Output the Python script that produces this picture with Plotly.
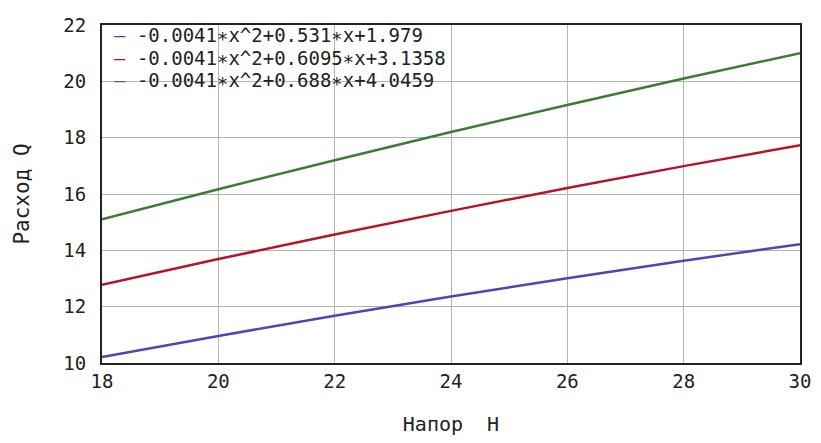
import plotly.graph_objects as go

# Напор H (x) and Расход Q (y) for the three pump curves
head = [18, 20, 22, 24, 26, 28, 30]
flow_1 = [10.21, 10.96, 11.68, 12.36, 13.01, 13.63, 14.22]
flow_2 = [12.78, 13.69, 14.56, 15.40, 16.21, 16.99, 17.73]
flow_3 = [15.10, 16.17, 17.20, 18.20, 19.16, 20.10, 21.00]

labels = [
    "-0.0041*x^2+0.531*x+1.979",
    "-0.0041*x^2+0.6095*x+3.1358",
    "-0.0041*x^2+0.688*x+4.0459",
]
colors = ["#4a48b4", "#b4142c", "#3c7c34"]
x_ticks = [18, 20, 22, 24, 26, 28, 30]
y_ticks = [10, 12, 14, 16, 18, 20, 22]

FONT = "DejaVu Sans Mono"
INK = "#222222"

fig = go.Figure()
for ys, name, c in zip([flow_1, flow_2, flow_3], labels, colors):
    fig.add_trace(go.Scatter(x=head, y=ys, mode="lines", name=name,
                             line=dict(color=c, width=2.5), showlegend=False))

# compact legend block: the base size sets the row pitch,
# the spans themselves are drawn a little larger
rows = [
    f"<span style='font-size:19px'><span style='color:{c}'>—</span> {name.replace('*', '∗')}</span>"
    for name, c in zip(labels, colors)
]
fig.add_annotation(
    xref="paper", yref="paper", x=0.014, y=1.0, xanchor="left", yanchor="top",
    yshift=3, align="left",
    text="<br>".join(rows),
    showarrow=False, font=dict(family=FONT, size=17.4, color=INK),
)

axis_common = dict(
    showgrid=True, gridcolor="#b4b4b4", gridwidth=1,
    showline=True, linecolor=INK, linewidth=2, mirror=True,
    ticks="", zeroline=False,
    tickfont=dict(family=FONT, size=19, color=INK),
)
fig.update_xaxes(range=[18, 30], tickvals=x_ticks, ticklabelstandoff=0,
                 title=dict(text="Напор\u00a0\u00a0H", font=dict(family=FONT, size=20, color=INK),
                            standoff=26), **axis_common)
fig.update_yaxes(range=[10, 22], tickvals=y_ticks, ticklabelstandoff=10,
                 title=dict(text="Расход\u00a0Q", font=dict(family=FONT, size=21, color=INK),
                            standoff=28), **axis_common)

fig.update_layout(
    width=821, height=443,
    margin=dict(l=102, r=10, t=25, b=80),
    plot_bgcolor="white", paper_bgcolor="white",
)

fig.write_html("out.html")
